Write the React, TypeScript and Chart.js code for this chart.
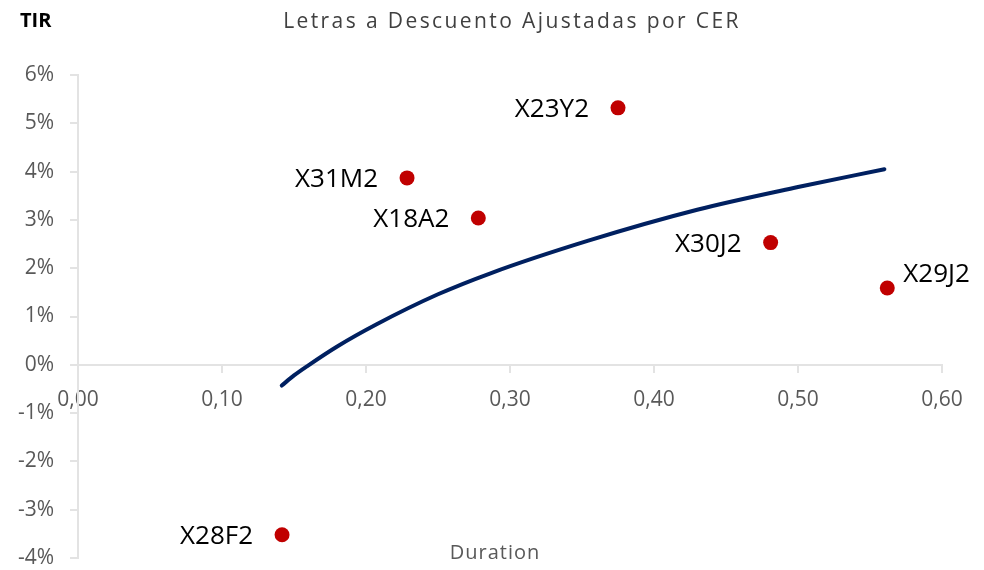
import React, { useEffect, useRef } from 'react';
import { Chart, registerables } from 'chart.js';

Chart.register(...registerables);

// Bonds (Letras a descuento ajustadas por CER)
const codes = ['X28F2', 'X31M2', 'X18A2', 'X23Y2', 'X30J2', 'X29J2'];
const duration = [0.1417, 0.2285, 0.278, 0.375, 0.481, 0.562];
const tir = [-3.52, 3.87, 3.04, 5.32, 2.53, 1.59];

// Trend curve
const trendDuration = [0.1415, 0.15, 0.16, 0.18, 0.2074, 0.25, 0.286, 0.3544, 0.43, 0.5, 0.56];
const trendTir = [-0.43, -0.22, -0.01, 0.38, 0.84, 1.46, 1.89, 2.57, 3.21, 3.68, 4.05];

const chartTitle = 'Letras a Descuento Ajustadas por CER';
const yTitle = 'TIR';
const xTitle = 'Duration';

const FONT = '"Open Sans", "Noto Sans", sans-serif';

const textPlugin = {
  id: 'textPlugin',
  afterDatasetsDraw(chart: any) {
    const ctx = chart.ctx;
    const meta = chart.getDatasetMeta(1);
    ctx.save();
    ctx.font = `26px ${FONT}`;
    ctx.fillStyle = '#000000';
    ctx.textBaseline = 'alphabetic';
    meta.data.forEach((pt: any, i: number) => {
      const label = codes[i];
      if (label === 'X29J2') {
        ctx.textAlign = 'left';
        ctx.fillText(label, pt.x + 16, pt.y - 6);
      } else {
        ctx.textAlign = 'right';
        ctx.fillText(label, pt.x - 29, pt.y + 9);
      }
    });
    // Title
    ctx.font = `21px ${FONT}`;
    ctx.fillStyle = '#404040';
    ctx.textAlign = 'center';
    (ctx as any).letterSpacing = '2.4px';
    ctx.fillText(chartTitle, 512, 28);
    // X title
    ctx.font = `20px ${FONT}`;
    ctx.fillStyle = '#595959';
    (ctx as any).letterSpacing = '1px';
    ctx.fillText(xTitle, 495, 559);
    // Y title
    (ctx as any).letterSpacing = '0px';
    ctx.font = `bold 20px ${FONT}`;
    ctx.fillStyle = '#000000';
    ctx.textAlign = 'left';
    ctx.fillText(yTitle, 20, 27);
    ctx.restore();
  },
};

export default function App() {
  const canvasRef = useRef<HTMLCanvasElement | null>(null);

  useEffect(() => {
    const canvas = canvasRef.current;
    if (!canvas) return;
    const chart = new Chart(canvas, {
      type: 'scatter',
      data: {
        datasets: [
          {
            type: 'line',
            label: 'Tendencia',
            data: trendDuration.map((x, i) => ({ x, y: trendTir[i] })),
            borderColor: '#002060',
            borderWidth: 4,
            pointRadius: 0,
            showLine: true,
            fill: false,
            cubicInterpolationMode: 'monotone',
            borderCapStyle: 'round',
            order: 2,
          },
          {
            type: 'scatter',
            label: 'Letras',
            data: duration.map((x, i) => ({ x, y: tir[i] })),
            backgroundColor: '#C00000',
            borderColor: '#C00000',
            borderWidth: 0,
            pointRadius: 7.5,
            order: 1,
          },
        ],
      },
      options: {
        responsive: false,
        animation: false,
        devicePixelRatio: 1,
        layout: { padding: { top: 75, right: 42, bottom: 12, left: 0 } },
        plugins: {
          legend: { display: false },
          tooltip: { enabled: false },
          title: { display: false },
        },
        scales: {
          x: {
            type: 'linear',
            position: { y: 0 },
            min: 0,
            max: 0.6,
            afterFit: (scale: any) => {
              scale.height = 0;
              scale.paddingTop = 0;
              scale.paddingBottom = 0;
            },
            ticks: {
              stepSize: 0.1,
              padding: 16,
              color: '#595959',
              font: { family: FONT, size: 21 },
              callback: (v: any) => Number(v).toFixed(2).replace('.', ','),
            },
            grid: {
              drawOnChartArea: false,
              drawTicks: true,
              tickLength: 7,
              color: '#e3e3e3',
              lineWidth: 2,
            },
            border: { color: '#e3e3e3', width: 2 },
          },
          y: {
            type: 'linear',
            position: 'left',
            min: -4,
            max: 6,
            afterFit: (scale: any) => {
              scale.width = 78;
              scale.paddingTop = 0;
              scale.paddingBottom = 0;
            },
            ticks: {
              stepSize: 1,
              padding: 16,
              color: '#595959',
              font: { family: FONT, size: 21 },
              callback: (v: any) => `${v}%`,
            },
            grid: {
              drawOnChartArea: false,
              drawTicks: true,
              tickLength: 8,
              color: '#e3e3e3',
              lineWidth: 2,
            },
            border: { color: '#e3e3e3', width: 2 },
          },
        },
      } as any,
      plugins: [textPlugin],
    });
    return () => chart.destroy();
  }, []);

  return (
    <div style={{ position: 'fixed', left: 0, top: 0, width: 984, height: 570, background: '#fff' }}>
      <canvas ref={canvasRef} width={984} height={570} />
    </div>
  );
}
